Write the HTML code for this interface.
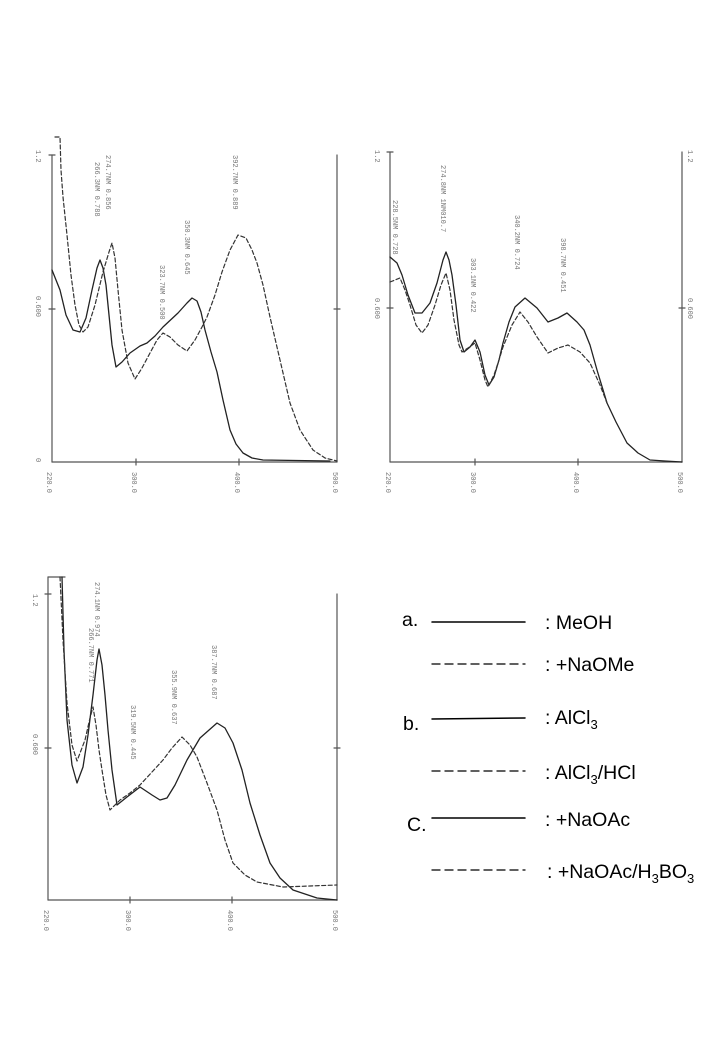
<!DOCTYPE html>
<html><head><meta charset="utf-8"><style>html,body{margin:0;padding:0;background:#fff}svg{display:block}</style></head>
<body>
<svg width="720" height="1040" viewBox="0 0 720 1040" xmlns="http://www.w3.org/2000/svg" font-family="Liberation Mono, monospace">
<g fill="none" stroke-linejoin="round" stroke-linecap="round">
<g stroke="#555" stroke-width="1.2">
<line x1="52" y1="155" x2="52" y2="462"/><line x1="52" y1="462" x2="337" y2="462"/><line x1="337" y1="155" x2="337" y2="462"/>
<line x1="49" y1="155" x2="55" y2="155"/><line x1="49" y1="309" x2="55" y2="309"/><line x1="334" y1="309" x2="340" y2="309"/>
<line x1="136" y1="459" x2="136" y2="465"/><line x1="239" y1="459" x2="239" y2="465"/>
</g>
<path stroke="#222" stroke-width="1.3" d="M52,270 L60,290 L66,315 L73,330 L80,332 L86,318 L92,290 L97,268 L100,260 L103,268 L106,285 L109,315 L112,345 L116,367 L122,362 L130,353 L140,346 L147,343 L155,336 L163,327 L178,313 L187,303 L192,298 L197,301 L201,312 L205,330 L211,352 L217,372 L223,400 L230,430 L236,444 L243,453 L252,458 L263,460 L330,461"/>
<path stroke="#333" stroke-width="1.2" stroke-dasharray="4,2.5" d="M55,137 L60,137 L61,170 L63,197 L67,235 L71,275 L75,305 L79,325 L83,332 L88,327 L95,305 L103,272 L109,252 L112,243 L115,258 L118,290 L122,330 L128,363 L135,379 L142,368 L150,353 L157,340 L163,333 L170,337 L178,345 L187,351 L195,340 L202,327 L207,317 L215,295 L222,272 L230,250 L238,235 L246,238 L252,250 L257,263 L263,285 L270,317 L280,360 L290,403 L300,430 L313,450 L325,458 L337,461"/>
<g stroke="#555" stroke-width="1.2">
<line x1="390" y1="152" x2="390" y2="462"/><line x1="390" y1="462" x2="682" y2="462"/><line x1="682" y1="152" x2="682" y2="462"/>
<line x1="387" y1="152" x2="393" y2="152"/><line x1="387" y1="308" x2="393" y2="308"/><line x1="679" y1="308" x2="685" y2="308"/>
<line x1="475" y1="459" x2="475" y2="465"/><line x1="578" y1="459" x2="578" y2="465"/>
</g>
<path stroke="#222" stroke-width="1.3" d="M390,257 L397,263 L402,275 L408,295 L415,313 L422,313 L430,303 L437,283 L443,260 L446,252 L449,260 L452,275 L456,305 L460,340 L464,352 L470,347 L475,340 L480,352 L485,375 L489,385 L494,377 L499,360 L503,343 L509,322 L515,307 L525,298 L537,308 L548,322 L558,318 L567,313 L577,322 L584,330 L590,345 L597,370 L607,403 L616,422 L627,443 L638,453 L650,460 L665,461 L682,462"/>
<path stroke="#333" stroke-width="1.2" stroke-dasharray="4,2.5" d="M390,282 L400,278 L405,290 L410,305 L416,325 L422,333 L428,325 L435,305 L441,285 L446,273 L450,290 L454,320 L459,345 L462,352 L468,348 L475,343 L480,360 L485,380 L488,387 L494,375 L499,360 L503,347 L512,325 L520,312 L528,322 L537,337 L548,353 L558,348 L568,345 L580,352 L590,363 L600,385 L607,403"/>
<g stroke="#555" stroke-width="1.2">
<line x1="48" y1="577" x2="48" y2="900"/><line x1="48" y1="900" x2="337" y2="900"/><line x1="337" y1="594" x2="337" y2="900"/>
<line x1="48" y1="577" x2="65" y2="577"/>
<line x1="45" y1="594" x2="51" y2="594"/><line x1="45" y1="748" x2="51" y2="748"/><line x1="334" y1="748" x2="340" y2="748"/>
<line x1="130" y1="897" x2="130" y2="903"/><line x1="232" y1="897" x2="232" y2="903"/>
</g>
<path stroke="#222" stroke-width="1.3" d="M62,577 L64,650 L67,720 L72,765 L77,783 L83,767 L88,735 L93,695 L97,660 L99,649 L102,665 L105,695 L108,730 L112,770 L117,805 L127,797 L140,787 L152,795 L160,800 L167,798 L175,785 L187,760 L200,738 L217,723 L225,728 L233,743 L242,770 L250,803 L260,835 L270,863 L280,878 L293,890 L317,898 L337,900"/>
<path stroke="#333" stroke-width="1.2" stroke-dasharray="4,2.5" d="M60,577 L63,640 L67,703 L72,745 L77,761 L85,740 L90,718 L93,707 L96,725 L99,750 L102,770 L106,795 L110,810 L120,800 L130,793 L140,785 L152,772 L163,760 L172,748 L182,737 L190,745 L197,757 L207,783 L217,810 L225,840 L233,863 L245,875 L257,882 L283,887 L310,886 L337,885"/>
<g stroke="#000" stroke-width="1.5">
<line x1="432" y1="622" x2="525" y2="622"/>
<line x1="432" y1="719" x2="525" y2="718"/>
<line x1="432" y1="818" x2="525" y2="818"/>
</g>
<g stroke="#000" stroke-width="1.3" stroke-dasharray="8,5">
<line x1="432" y1="664" x2="525" y2="664"/>
<line x1="432" y1="771" x2="525" y2="771"/>
<line x1="432" y1="870" x2="525" y2="870"/>
</g>
</g>
<g font-size="7" fill="#777">
<text transform="translate(36,150) rotate(90)">1.2</text>
<text transform="translate(36,296) rotate(90)">0.600</text>
<text transform="translate(36,458) rotate(90)">0</text>
<text transform="translate(47,472) rotate(90)">220.0</text>
<text transform="translate(132,472) rotate(90)">300.0</text>
<text transform="translate(235,472) rotate(90)">400.0</text>
<text transform="translate(333,472) rotate(90)">500.0</text>
<text transform="translate(106,155) rotate(90)">274.7NM 0.856</text>
<text transform="translate(95,162) rotate(90)">266.3NM 0.788</text>
<text transform="translate(160,265) rotate(90)">323.7NM 0.500</text>
<text transform="translate(185,220) rotate(90)">350.3NM 0.645</text>
<text transform="translate(233,155) rotate(90)">392.7NM 0.889</text>
<text transform="translate(375,150) rotate(90)">1.2</text>
<text transform="translate(375,298) rotate(90)">0.600</text>
<text transform="translate(688,150) rotate(90)">1.2</text>
<text transform="translate(688,298) rotate(90)">0.600</text>
<text transform="translate(386,472) rotate(90)">220.0</text>
<text transform="translate(471,472) rotate(90)">300.0</text>
<text transform="translate(574,472) rotate(90)">400.0</text>
<text transform="translate(678,472) rotate(90)">500.0</text>
<text transform="translate(393,200) rotate(90)">228.5NM 0.728</text>
<text transform="translate(441,165) rotate(90)">274.8NM 1NM010.7</text>
<text transform="translate(471,258) rotate(90)">303.1NM 0.422</text>
<text transform="translate(515,215) rotate(90)">340.2NM 0.724</text>
<text transform="translate(561,238) rotate(90)">398.7NM 0.451</text>
<text transform="translate(33,594) rotate(90)">1.2</text>
<text transform="translate(33,734) rotate(90)">0.600</text>
<text transform="translate(44,910) rotate(90)">220.0</text>
<text transform="translate(126,910) rotate(90)">300.0</text>
<text transform="translate(228,910) rotate(90)">400.0</text>
<text transform="translate(333,910) rotate(90)">500.0</text>
<text transform="translate(95,582) rotate(90)">274.1NM 0.974</text>
<text transform="translate(89,628) rotate(90)">266.7NM 0.771</text>
<text transform="translate(131,705) rotate(90)">319.5NM 0.445</text>
<text transform="translate(172,670) rotate(90)">355.9NM 0.637</text>
<text transform="translate(212,645) rotate(90)">387.7NM 0.687</text>
</g>
<g font-family="Liberation Sans, sans-serif" font-size="19.5" fill="#000">
<text x="402" y="626">a.</text>
<text x="545" y="629">: MeOH</text>
<text x="545" y="671">: +NaOMe</text>
<text x="403" y="730">b.</text>
<text x="545" y="724">: AlCl<tspan font-size="13" dy="5">3</tspan></text>
<text x="545" y="779">: AlCl<tspan font-size="13" dy="5">3</tspan><tspan dy="-5">/HCl</tspan></text>
<text x="407" y="831">C.</text>
<text x="545" y="826">: +NaOAc</text>
<text x="547" y="878">: +NaOAc/H<tspan font-size="13" dy="5">3</tspan><tspan dy="-5">BO</tspan><tspan font-size="13" dy="5">3</tspan></text>
</g>
</svg>
</body></html>
